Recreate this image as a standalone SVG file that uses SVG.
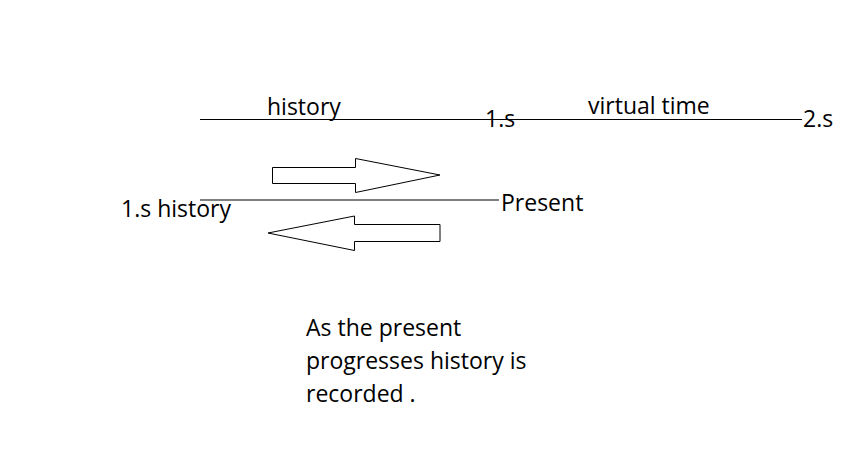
<svg xmlns="http://www.w3.org/2000/svg" width="868" height="460" viewBox="0 0 868 460">
<style>
.t{font-family:"Open Sans","Liberation Sans",sans-serif;font-size:23px;fill:#000}
.b{font-family:"Open Sans","Liberation Sans",sans-serif;font-size:23px;fill:#000}
.ln{stroke:#000;stroke-width:1.2;fill:none}
.ar{stroke:#000;stroke-width:1;fill:#fff}
</style>
<rect width="868" height="460" fill="#fff"/>
<g id="connectors">
<line class="ln" x1="200" y1="119.5" x2="802" y2="119.5"/>
<line class="ln" x1="200" y1="200" x2="499" y2="200"/>
</g>
<g id="arrow-right">
<polygon class="ar" points="272.5,167.5 355.5,167.5 355.5,158.5 440,175 355.5,192.5 355.5,183.5 272.5,183.5"/>
</g>
<g id="arrow-left">
<polygon class="ar" points="440,224.5 354.5,224.5 354.5,216 268,233 354.5,250.5 354.5,241.5 440,241.5"/>
</g>
<g id="label-history"><text class="t" x="267" y="115">history</text></g>
<g id="label-1s"><text class="t" x="485" y="127">1.s</text></g>
<g id="label-virtual"><text class="t" x="588" y="114">virtual time</text></g>
<g id="label-2s"><text class="t" x="803" y="127">2.s</text></g>
<g id="label-1shistory"><text class="t" x="121" y="217">1.s history</text></g>
<g id="label-present"><text class="t" x="501" y="211">Present</text></g>
<g id="note">
<text class="b" x="306" y="336">As the present</text>
<text class="b" x="306" y="369">progresses history is</text>
<text class="b" x="306" y="402">recorded .</text>
</g>
</svg>
